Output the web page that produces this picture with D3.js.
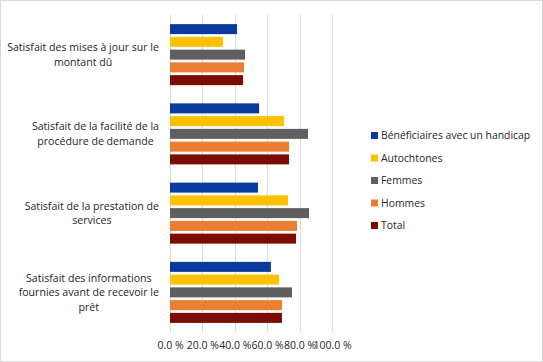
<!DOCTYPE html>
<html>
<head>
<meta charset="utf-8">
<script src="https://cdn.jsdelivr.net/npm/d3@7"></script>
<style>
  html, body { margin: 0; padding: 0; background: #fff; }
  svg { display: block; font-family: "Open Sans", "Liberation Sans", sans-serif; }
</style>
</head>
<body>
<svg id="chart" width="543" height="362"></svg>
<script>
const categories = [
  ["Satisfait des mises à jour sur le", "montant dû"],
  ["Satisfait de la facilité de la", "procédure de demande"],
  ["Satisfait de la prestation de", "services"],
  ["Satisfait des informations", "fournies avant de recevoir le", "prêt"]
];
const seriesNames = ["Bénéficiaires avec un handicap", "Autochtones", "Femmes", "Hommes", "Total"];
const seriesColors = ["#0B3A9E", "#FFC000", "#5F5F5F", "#ED7D31", "#7B0D00"];
const beneficiaires = [41.4, 55.0, 54.3, 62.3];
const autochtones   = [32.7, 70.4, 72.8, 67.3];
const femmes        = [46.3, 85.2, 85.8, 75.3];
const hommes        = [45.7, 73.5, 78.4, 69.1];
const total         = [45.1, 73.5, 77.8, 69.1];
const tickValues = [0, 20, 40, 60, 80, 100];
const tickLabels = ["0.0 %", "20.0 %", "40.0 %", "60.0 %", "80.0 %", "100.0 %"];

const seriesValues = [beneficiaires, autochtones, femmes, hommes, total];

const svg = d3.select("#chart");
const W = 543, H = 362;
const textColor = "#262626";

svg.append("rect").attr("x", 0.5).attr("y", 0.5).attr("width", W - 1).attr("height", H - 1)
  .attr("fill", "#fff").attr("stroke", "#d9d9d9");

const plot = { left: 170, right: 332, top: 15, bottom: 332 };

const x = d3.scaleLinear().domain([0, 100]).range([plot.left, plot.right]);
const y0 = d3.scaleBand().domain(d3.range(categories.length)).range([plot.top, plot.bottom]).paddingInner(0.23).paddingOuter(0.115);
const y1 = d3.scaleBand().domain(d3.range(seriesNames.length)).range([0, y0.bandwidth()]).paddingInner(0.2157).paddingOuter(0);

// gridlines
svg.append("g").selectAll("line").data(tickValues).join("line")
  .attr("x1", d => Math.round(x(d)) + 0.5).attr("x2", d => Math.round(x(d)) + 0.5)
  .attr("y1", plot.top).attr("y2", plot.bottom)
  .attr("stroke", "#d9d9d9").attr("stroke-width", 1);

// bars
const groups = svg.append("g").selectAll("g").data(categories).join("g")
  .attr("transform", (d, i) => `translate(0,${y0(i)})`);
groups.selectAll("rect").data((d, i) => seriesValues.map((s, j) => ({ j, v: s[i] }))).join("rect")
  .attr("x", x(0))
  .attr("y", d => y1(d.j))
  .attr("width", d => x(d.v) - x(0))
  .attr("height", y1.bandwidth())
  .attr("fill", d => seriesColors[d.j]);

// x axis labels
const xAxis = d3.axisBottom(x).tickValues(tickValues).tickFormat((d, i) => tickLabels[i]).tickSize(0).tickPadding(0);
const gx = svg.append("g").attr("transform", `translate(0,${plot.bottom + 10})`).call(xAxis);
gx.select(".domain").remove();
gx.selectAll("text").attr("font-size", 10.5).attr("fill", textColor).attr("font-family", "Open Sans, Liberation Sans, sans-serif");

// category labels
const labelRight = 159, lineH = 14.5, catFont = 10.6;
const labG = svg.append("g").attr("font-size", catFont).attr("fill", textColor);
categories.forEach((lines, i) => {
  const cy = y0(i) + y0.bandwidth() / 2;
  const t = labG.append("text").attr("text-anchor", "middle");
  lines.forEach((ln, k) => {
    t.append("tspan").attr("x", 0).attr("y", cy + (k - (lines.length - 1) / 2) * lineH).attr("dy", "0.35em").text(ln);
  });
  const maxW = d3.max(t.selectAll("tspan").nodes(), n => n.getComputedTextLength());
  t.selectAll("tspan").attr("x", labelRight - maxW / 2);
});

// legend
const legY = d3.scalePoint().domain(d3.range(seriesNames.length)).range([135.5, 225.5]);
const leg = svg.append("g").attr("font-size", 10.4).attr("fill", textColor);
seriesNames.forEach((n, j) => {
  leg.append("rect").attr("x", 371).attr("y", legY(j) - 3.5).attr("width", 7).attr("height", 7).attr("fill", seriesColors[j]);
  leg.append("text").attr("x", 381).attr("y", legY(j)).attr("dy", "0.35em").text(n);
});
</script>
</body>
</html>
